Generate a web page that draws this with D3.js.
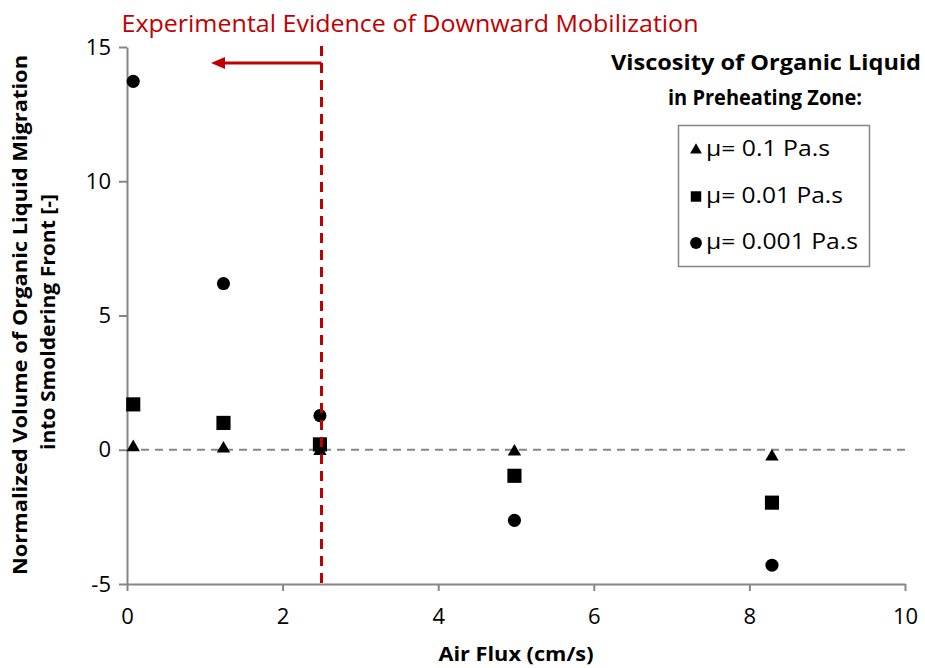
<!DOCTYPE html>
<html><head><meta charset="utf-8">
<script src="https://cdn.jsdelivr.net/npm/d3@7"></script>
<style>body{margin:0;background:#fff;} text{font-family:"Open Sans",sans-serif;}</style>
</head><body><div id="chart"></div>
<script>
const xValues = [0.08, 1.24, 2.48, 4.98, 8.29];
const seriesNames = ["μ= 0.1 Pa.s", "μ= 0.01 Pa.s", "μ= 0.001 Pa.s"];
const triangleValues = [0.09, 0.04, -0.05, -0.07, -0.26];
const squareValues = [1.69, 1.0, 0.2, -0.97, -1.97];
const circleValues = [13.72, 6.19, 1.27, -2.63, -4.3];
const xTicks = [0, 2, 4, 6, 8, 10];
const yTicks = [-5, 0, 5, 10, 15];
const thresholdX = 2.5;
const arrowEndX = 1.08;
const arrowY = 14.4;

const W = 925, H = 668;
const svg = d3.select("#chart").append("svg").attr("width", W).attr("height", H);
const x = d3.scaleLinear().domain([0, 10]).range([127, 905]);
const y = d3.scaleLinear().domain([-5, 15]).range([584, 47]);
const axisColor = "#868686";
const fmt = d => String(d);

// axes
const xAxis = svg.append("g").attr("transform", `translate(0,${y(-5)})`)
  .call(d3.axisBottom(x).tickValues(xTicks).tickFormat(fmt).tickSize(7).tickSizeOuter(0).tickPadding(17));
const yAxis = svg.append("g").attr("transform", `translate(${x(0)},0)`)
  .call(d3.axisLeft(y).tickValues(yTicks).tickFormat(fmt).tickSize(8).tickSizeOuter(0).tickPadding(8));
[xAxis, yAxis].forEach(g => {
  g.select(".domain").attr("stroke", axisColor).attr("stroke-width", 2);
  g.selectAll(".tick line").attr("stroke", axisColor).attr("stroke-width", 2);
  g.selectAll(".tick text").attr("fill", "#000").attr("font-size", 22).attr("font-family", "'Open Sans', sans-serif");
});

// zero reference line
svg.append("line").attr("x1", x(0)).attr("x2", x(10)).attr("y1", y(0)).attr("y2", y(0))
  .attr("stroke", axisColor).attr("stroke-width", 2).attr("stroke-dasharray", "8,6");

// markers
const tri = d3.symbol().type(d3.symbolTriangle).size(78);
const sq = d3.symbol().type(d3.symbolSquare).size(200);
const circ = d3.symbol().type(d3.symbolCircle).size(135);
function plot(vals, sym) {
  svg.append("g").selectAll("path").data(vals).join("path")
    .attr("d", sym)
    .attr("transform", (d, i) => `translate(${x(xValues[i])},${y(d)})`)
    .attr("fill", "#000");
}
plot(circleValues, circ);
plot(squareValues, sq);
plot(triangleValues, tri);

// red threshold line (drawn over markers)
const red = "#C00000";
svg.append("line").attr("x1", x(thresholdX)).attr("x2", x(thresholdX)).attr("y1", y(15) - 1).attr("y2", y(-5))
  .attr("stroke", red).attr("stroke-width", 3).attr("stroke-dasharray", "10,7");
svg.append("line").attr("x1", x(thresholdX)).attr("x2", x(arrowEndX) + 12).attr("y1", y(arrowY)).attr("y2", y(arrowY))
  .attr("stroke", red).attr("stroke-width", 3);
svg.append("path")
  .attr("d", `M${x(arrowEndX)},${y(arrowY)} L${x(arrowEndX) + 14},${y(arrowY) - 6} L${x(arrowEndX) + 14},${y(arrowY) + 6} Z`)
  .attr("fill", red);
svg.append("text").attr("x", 410).attr("y", 32).attr("text-anchor", "middle")
  .attr("fill", red).attr("font-size", 23).attr("textLength", 577).attr("lengthAdjust", "spacingAndGlyphs")
  .text("Experimental Evidence of Downward Mobilization");

// legend title
svg.append("text").attr("x", 766).attr("y", 70).attr("text-anchor", "middle").attr("font-weight", "bold")
  .attr("font-size", 22).attr("textLength", 310).attr("lengthAdjust", "spacingAndGlyphs").text("Viscosity of Organic Liquid");
svg.append("text").attr("x", 765).attr("y", 105).attr("text-anchor", "middle").attr("font-weight", "bold")
  .attr("font-size", 22).attr("textLength", 194).attr("lengthAdjust", "spacingAndGlyphs").text("in Preheating Zone:");

// legend box
svg.append("rect").attr("x", 678.5).attr("y", 125.5).attr("width", 191).attr("height", 141)
  .attr("fill", "#fff").attr("stroke", axisColor).attr("stroke-width", 1.5);
const legSyms = [d3.symbol().type(d3.symbolTriangle).size(60), d3.symbol().type(d3.symbolSquare).size(110), d3.symbol().type(d3.symbolCircle).size(110)];
const legLen = [124, 137, 152];
seriesNames.forEach((name, i) => {
  const ly = 150 + i * 46.5;
  svg.append("path").attr("d", legSyms[i]).attr("transform", `translate(696,${ly})`).attr("fill", "#000");
  svg.append("text").attr("x", 706).attr("y", ly + 6).attr("font-size", 21).attr("fill", "#000")
    .attr("textLength", legLen[i]).attr("lengthAdjust", "spacingAndGlyphs").text(name);
});

// axis titles
svg.append("text").attr("x", 516).attr("y", 661).attr("text-anchor", "middle").attr("font-weight", "bold")
  .attr("font-size", 19).attr("textLength", 155).attr("lengthAdjust", "spacingAndGlyphs").text("Air Flux (cm/s)");
const yl = svg.append("g").attr("transform", "translate(0,315) rotate(-90)");
yl.append("text").attr("x", 0).attr("y", 27).attr("text-anchor", "middle").attr("font-weight", "bold")
  .attr("font-size", 19).attr("textLength", 520).attr("lengthAdjust", "spacingAndGlyphs")
  .text("Normalized Volume of Organic Liquid Migration");
yl.append("text").attr("x", -7).attr("y", 55).attr("text-anchor", "middle").attr("font-weight", "bold")
  .attr("font-size", 19).attr("textLength", 256).attr("lengthAdjust", "spacingAndGlyphs")
  .text("into Smoldering Front [-]");
</script></body></html>
